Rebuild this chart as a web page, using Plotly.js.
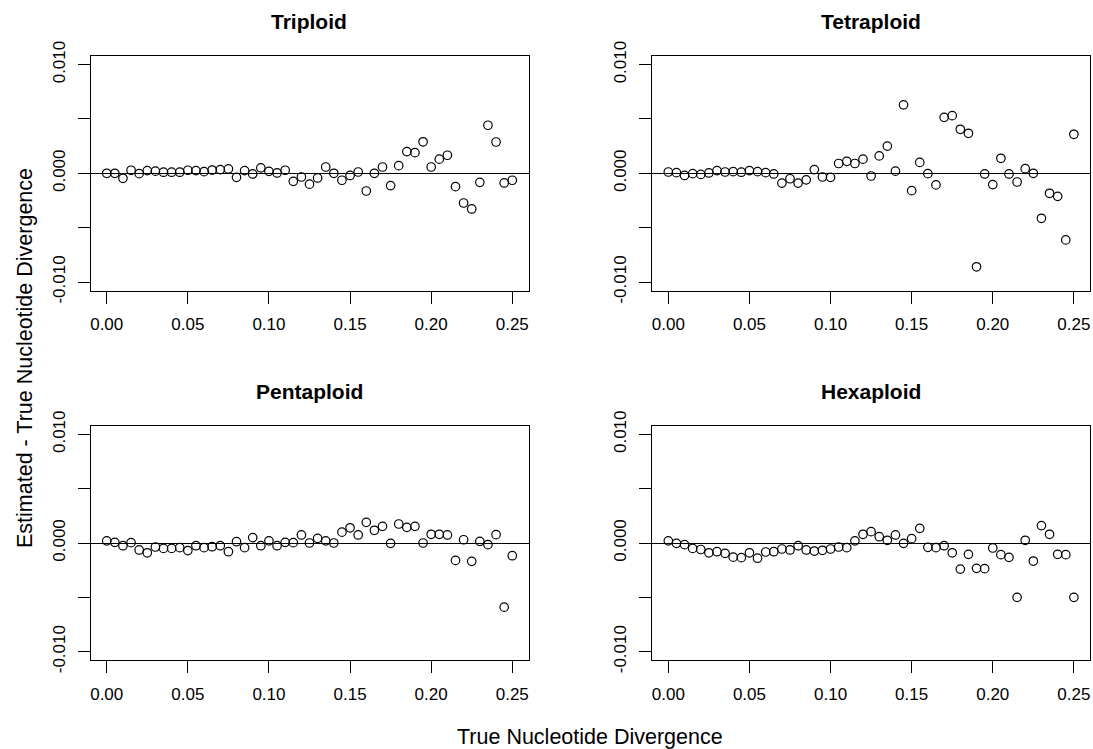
<!DOCTYPE html>
<html>
<head>
<meta charset="utf-8">
<script src="https://cdn.plot.ly/plotly-3.0.1.min.js"></script>
<style>html,body{margin:0;padding:0;background:#fff;}#chart{width:1093px;height:749px;}</style>
</head>
<body>
<div id="chart"></div>
<script>
// True nucleotide divergence: 0.000 .. 0.250 in steps of 0.005 (51 values)
const trueDiv = [0.000,0.005,0.010,0.015,0.020,0.025,0.030,0.035,0.040,0.045,
  0.050,0.055,0.060,0.065,0.070,0.075,0.080,0.085,0.090,0.095,
  0.100,0.105,0.110,0.115,0.120,0.125,0.130,0.135,0.140,0.145,
  0.150,0.155,0.160,0.165,0.170,0.175,0.180,0.185,0.190,0.195,
  0.200,0.205,0.210,0.215,0.220,0.225,0.230,0.235,0.240,0.245,0.250];

const triploid = [0.0000,0.0000,-0.00046,0.00028,-0.00003,0.00025,0.0002,0.0001,0.0001,0.0001,
  0.00028,0.00025,0.00015,0.0003,0.00034,0.0004,-0.00037,0.00025,-0.00006,0.0005,
  0.00018,0.00003,0.00028,-0.00074,-0.00034,-0.0010,-0.00043,0.00058,0.0000,-0.00064,
  -0.0002,0.00012,-0.00163,0.0000,0.00058,-0.00113,0.0007,0.0020,0.0019,0.0029,
  0.00058,0.0013,0.00166,-0.00123,-0.00273,-0.00328,-0.00083,0.00442,0.00288,-0.00089,-0.00064];

const tetraploid = [0.00012,0.00006,-0.0002,-0.00003,-0.0001,0.00003,0.00025,0.00012,0.00015,0.0001,
  0.00025,0.00015,0.00006,-0.00006,-0.0009,-0.0005,-0.0009,-0.0006,0.00034,-0.00034,
  -0.00037,0.0009,0.0011,0.0009,0.0013,-0.00025,0.0016,0.0025,0.0002,0.0063,
  -0.0016,0.0010,-0.00003,-0.00107,0.00515,0.0053,0.00405,0.00368,-0.0086,-0.00006,
  -0.00104,0.00138,-0.00006,-0.0008,0.00043,0.0000,-0.00414,-0.00184,-0.00212,-0.00613,0.00359];

const pentaploid = [0.0002,0.00006,-0.00025,0.00003,-0.00064,-0.0009,-0.00037,-0.0005,-0.0005,-0.00043,
  -0.0007,-0.00025,-0.00043,-0.00034,-0.00025,-0.0008,0.00012,-0.00043,0.0005,-0.00025,
  0.0002,-0.00025,0.00006,0.00003,0.00074,0.0000,0.00043,0.0002,0.0000,0.0010,
  0.0014,0.00074,0.0019,0.00117,0.00153,-0.00003,0.00175,0.00144,0.00153,0.0000,
  0.0008,0.0008,0.00074,-0.0016,0.0003,-0.00169,0.00015,-0.00015,0.00077,-0.0059,-0.00117];

const hexaploid = [0.0002,-0.00003,-0.00015,-0.0005,-0.0006,-0.0009,-0.0008,-0.00095,-0.0013,-0.00135,
  -0.0009,-0.0014,-0.00083,-0.0008,-0.00055,-0.00064,-0.00025,-0.00064,-0.00074,-0.00067,
  -0.00055,-0.00037,-0.00043,0.0002,0.0008,0.00104,0.00058,0.00025,0.00074,-0.00003,
  0.0004,0.00135,-0.0004,-0.00043,-0.00025,-0.0009,-0.0024,-0.00104,-0.00233,-0.00236,
  -0.00046,-0.00107,-0.00132,-0.0050,0.00025,-0.00166,0.0016,0.0008,-0.00104,-0.00107,-0.0050];

const panelTitles = ["Triploid","Tetraploid","Pentaploid","Hexaploid"];
const series = [triploid, tetraploid, pentaploid, hexaploid];
const xTickVals = [0,0.05,0.10,0.15,0.20,0.25];
const xTickText = ["0.00","0.05","0.10","0.15","0.20","0.25"];
const yTickVals = [-0.01,-0.005,0,0.005,0.01];
const yTickText = ["-0.010","","0.000","","0.010"];
const xTitle = "True Nucleotide Divergence";
const yTitle = "Estimated - True Nucleotide Divergence";

const W = 1093, H = 749;
const xDomains = [[90.5/W, 528.5/W],[652.1/W, 1090.1/W]];
const yDomains = [[1-290.7/H, 1-55.9/H],[1-660.4/H, 1-425.6/H]];
const FONT = "Liberation Sans, Arial, sans-serif";

const traces = [];
const layout = {
  width: W, height: H,
  margin: {l:0, r:0, t:0, b:0},
  paper_bgcolor: "#fff", plot_bgcolor: "#fff",
  showlegend: false,
  font: {family: FONT, color: "#000", size: 17},
  annotations: []
};

series.forEach((ys, k) => {
  const n = k + 1;
  const col = k % 2, row = Math.floor(k / 2);
  traces.push({
    type: "scatter", mode: "markers",
    x: trueDiv, y: ys,
    xaxis: n === 1 ? "x" : "x" + n,
    yaxis: n === 1 ? "y" : "y" + n,
    marker: {symbol: "circle-open", size: 8.5, color: "#000", line: {width: 1.2, color: "#000"}},
    hoverinfo: "x+y"
  });
  const xa = {
    domain: xDomains[col], range: [-0.01, 0.26],
    anchor: n === 1 ? "y" : "y" + n,
    tickvals: xTickVals, ticktext: xTickText,
    ticks: "outside", ticklen: 12, tickwidth: 1, tickcolor: "#000",
    showline: true, mirror: true, linecolor: "#000", linewidth: 1,
    showgrid: false, zeroline: false,
    tickfont: {size: 17, family: FONT, color: "#000"},
    ticklabelstandoff: 6
  };
  const ya = {
    domain: yDomains[row], range: [-0.0108, 0.0108],
    anchor: n === 1 ? "x" : "x" + n,
    tickvals: yTickVals, ticktext: yTickText, tickangle: -90,
    ticks: "outside", ticklen: 12, tickwidth: 1, tickcolor: "#000",
    showline: true, mirror: true, linecolor: "#000", linewidth: 1,
    showgrid: false, zeroline: true, zerolinecolor: "#000", zerolinewidth: 1,
    tickfont: {size: 17, family: FONT, color: "#000"},
    ticklabelstandoff: 6
  };
  layout[n === 1 ? "xaxis" : "xaxis" + n] = xa;
  layout[n === 1 ? "yaxis" : "yaxis" + n] = ya;
  layout.annotations.push({
    text: "<b>" + panelTitles[k] + "</b>",
    xref: "paper", yref: "paper",
    x: (xDomains[col][0] + xDomains[col][1]) / 2,
    y: yDomains[row][1] + 34 / H,
    xanchor: "center", yanchor: "middle", showarrow: false,
    font: {size: 21, family: FONT, color: "#000"}
  });
});

layout.annotations.push({
  text: xTitle, xref: "paper", yref: "paper",
  x: 590 / W, y: 1 - 737 / H, xanchor: "center", yanchor: "middle",
  showarrow: false, font: {size: 21.5, family: FONT, color: "#000"}
});
layout.annotations.push({
  text: yTitle, xref: "paper", yref: "paper",
  x: 25 / W, y: 1 - 358 / H, xanchor: "center", yanchor: "middle",
  textangle: -90, showarrow: false, font: {size: 21.5, family: FONT, color: "#000"}
});

Plotly.newPlot("chart", traces, layout, {staticPlot: true, displayModeBar: false});
</script>
</body>
</html>
